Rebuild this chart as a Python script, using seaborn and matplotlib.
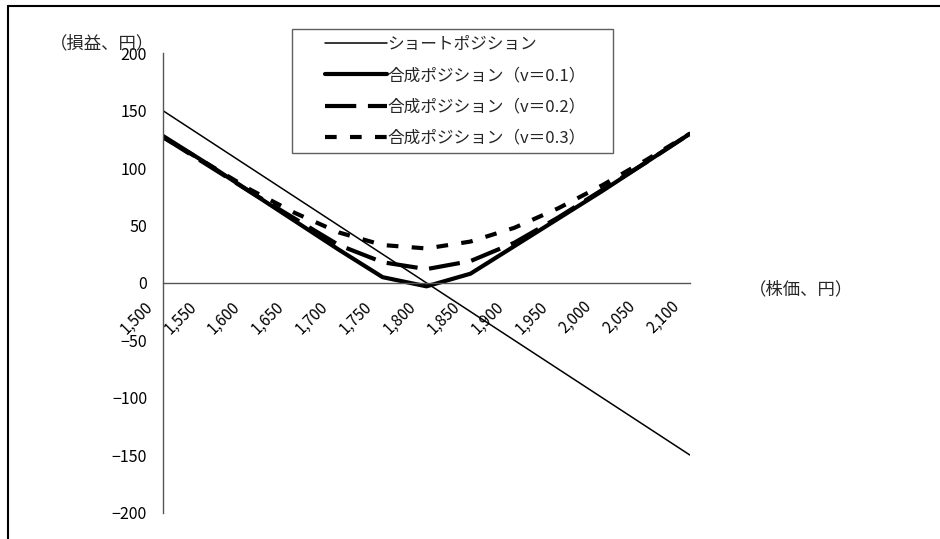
import matplotlib
matplotlib.use("Agg")
import matplotlib.pyplot as plt
import matplotlib.ticker as mticker
from matplotlib.lines import Line2D
from matplotlib.patches import Rectangle
from matplotlib.transforms import ScaledTranslation
import seaborn as sns

# stock price (yen)
price = [1500, 1550, 1600, 1650, 1700, 1750, 1800, 1850, 1900, 1950, 2000, 2050, 2100]

# P&L (yen)
short_pos = [150, 125, 100, 75, 50, 25, 0, -25, -50, -75, -100, -125, -150]
syn_v01 = [128, 104, 79, 54, 29, 5, -3, 8, 32, 56, 80, 105, 130]
syn_v02 = [127, 103, 79, 56, 33, 18, 12, 19, 35, 57, 81, 105, 130]
syn_v03 = [127, 104, 81, 61, 44, 33, 30, 36, 48, 65, 85, 107, 130]

labels = ["ショートポジション",
          "合成ポジション（v＝0.1）",
          "合成ポジション（v＝0.2）",
          "合成ポジション（v＝0.3）"]

sns.set_style("white")
plt.rcParams["font.family"] = ["Noto Sans CJK JP", "DejaVu Sans"]

W, H = 940, 539
fig = plt.figure(figsize=(W / 100, H / 100), dpi=100)
ax = fig.add_axes([163 / W, 1 - 512.5 / H, 527 / W, 459.2 / H])

sns.lineplot(x=price, y=short_pos, ax=ax, color="black", lw=1.1, label=labels[0])
sns.lineplot(x=price, y=syn_v01, ax=ax, color="black", lw=3, label=labels[1])
sns.lineplot(x=price, y=syn_v02, ax=ax, color="black", lw=3,
             linestyle=(0, (7.5, 2.8)), label=labels[2])
sns.lineplot(x=price, y=syn_v03, ax=ax, color="black", lw=3,
             linestyle=(0, (2.8, 3.2)), label=labels[3])

ax.set_xlim(1500, 2100)
ax.set_ylim(-200, 200)
ax.set_xticks(price)
ax.set_yticks(range(-200, 201, 50))
ax.xaxis.set_major_formatter(mticker.StrMethodFormatter("{x:,.0f}"))

for s in ["top", "right"]:
    ax.spines[s].set_visible(False)
ax.spines["bottom"].set_position(("data", 0))
for s in ["left", "bottom"]:
    ax.spines[s].set_color("#555555")
    ax.spines[s].set_linewidth(1)

ax.tick_params(axis="both", direction="in", length=5, width=1, color="#555555",
               labelcolor="black")
ax.tick_params(axis="y", pad=11.5, labelsize=11.5)
ax.tick_params(axis="x", pad=11, labelsize=11)
ax.set_xlabel("")
ax.set_ylabel("")

shift = ScaledTranslation(-0.07, 0, fig.dpi_scale_trans)
for lbl in ax.get_xticklabels():
    lbl.set_rotation(45)
    lbl.set_ha("right")
    lbl.set_va("top")
    lbl.set_transform(lbl.get_transform() + shift)

# legend (frame drawn separately)
leg = ax.legend(loc="upper left", bbox_to_anchor=(325 / W, 1 - 36 / H),
                bbox_transform=fig.transFigure, frameon=False, fontsize=12,
                handlelength=3.7, handletextpad=0.05, labelspacing=0.85,
                borderpad=0, borderaxespad=0)
fig.add_artist(Rectangle((292 / W, 1 - 153 / H), 321 / W, 124 / H,
                         transform=fig.transFigure, fill=False,
                         edgecolor="#606060", lw=1))

fig.text(50 / W, 1 - 43 / H, "（損益、円）", fontsize=12.5, va="center", ha="left")
fig.text(749 / W, 1 - 289 / H, "（株価、円）", fontsize=12.5, va="center", ha="left")

# chart area border (top and left)
fig.add_artist(Line2D([8 / W, 1], [1 - 6 / H, 1 - 6 / H], transform=fig.transFigure,
                      color="black", lw=1.5))
fig.add_artist(Line2D([8 / W, 8 / W], [0, 1 - 6 / H], transform=fig.transFigure,
                      color="black", lw=1.5))

fig.savefig("out.png", dpi=100, facecolor="white")
